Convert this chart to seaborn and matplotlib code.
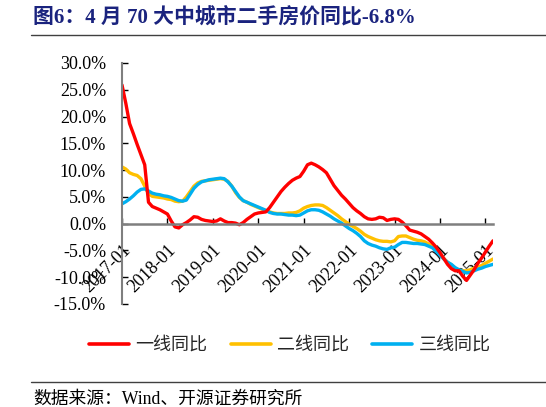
import numpy as np
import pandas as pd
import seaborn as sns
import matplotlib.pyplot as plt
from matplotlib.lines import Line2D

# monthly data, 2017-01 .. 2025-03
months = pd.date_range('2017-01-01', '2025-03-01', freq='MS')

tier1 = [25.9, 22.5, 18.7, 16.8, 14.8, 12.9, 11.0, 4.0, 3.2, 2.9,
         2.6, 2.2, 1.8, 0.5, -0.6, -0.8, -0.2, 0.2, 0.7, 1.3,
         1.2, 0.8, 0.6, 0.5, 0.4, 0.5, 0.9, 0.5, 0.2, 0.2,
         0.1, -0.2, 0.2, 0.8, 1.3, 1.8, 2.0, 2.1, 2.2, 3.0,
         4.0, 5.0, 6.0, 6.8, 7.5, 8.1, 8.5, 8.8, 9.8, 11.0,
         11.3, 11.0, 10.6, 10.1, 9.5, 8.3, 7.1, 6.2, 5.3, 4.6,
         3.8, 3.0, 2.4, 1.9, 1.3, 0.9, 0.8, 0.9, 1.2, 1.1,
         0.6, 0.8, 0.9, 0.8, 0.3, -0.4, -1.2, -1.4, -1.6, -1.9,
         -2.4, -2.9, -3.6, -4.4, -5.4, -6.5, -7.6, -8.4, -8.8, -8.8,
         -9.8, -10.6, -9.6, -8.6, -7.4, -6.4, -5.3, -4.2, -3.2]

tier2 = [10.6, 10.2, 9.5, 9.2, 9.0, 8.4, 7.0, 5.6, 5.1, 5.0,
         4.9, 4.8, 4.6, 4.5, 4.2, 4.1, 4.2, 5.0, 6.0, 7.0,
         7.6, 7.9, 8.0, 8.1, 8.2, 8.3, 8.4, 8.3, 7.9, 7.0,
         5.8, 4.9, 4.3, 4.0, 3.6, 3.3, 3.0, 2.7, 2.4, 2.2,
         2.0, 1.9, 1.9, 1.9, 2.0, 2.0, 2.1, 2.4, 2.9, 3.2,
         3.4, 3.5, 3.5, 3.4, 3.0, 2.5, 2.0, 1.5, 0.9, 0.4,
         -0.1, -0.5, -0.9, -1.4, -2.0, -2.4, -2.7, -3.0, -3.2, -3.3,
         -3.3, -3.4, -3.2, -2.4, -2.3, -2.3, -2.6, -2.9, -3.1, -3.2,
         -3.4, -3.8, -4.2, -4.9, -5.8, -6.5, -7.2, -7.7, -8.3, -8.7,
         -8.8, -8.8, -8.6, -8.3, -8.1, -7.8, -7.4, -7.0, -6.6]

tier3 = [3.7, 4.1, 4.6, 5.2, 5.9, 6.4, 6.5, 6.1, 5.7, 5.5,
         5.4, 5.2, 5.1, 4.9, 4.6, 4.3, 4.2, 4.4, 5.5, 6.6,
         7.3, 7.8, 8.0, 8.2, 8.3, 8.4, 8.5, 8.4, 7.8, 7.0,
         6.0, 5.0, 4.3, 4.0, 3.7, 3.4, 3.1, 2.8, 2.5, 2.1,
         1.9, 1.8, 1.8, 1.7, 1.6, 1.6, 1.5, 1.6, 2.0, 2.4,
         2.6, 2.6, 2.5, 2.2, 1.8, 1.4, 0.9, 0.5, 0.1, -0.4,
         -0.9, -1.3, -1.8, -2.4, -3.2, -3.7, -4.0, -4.2, -4.5, -4.7,
         -4.8, -4.5, -4.4, -3.9, -3.5, -3.5, -3.6, -3.7, -3.7, -3.8,
         -3.9, -4.2, -4.5, -5.2, -5.9, -6.6, -7.2, -7.6, -8.2, -8.6,
         -8.9, -9.2, -9.1, -8.8, -8.5, -8.3, -8.0, -7.8, -7.6]

series_names = ['一线同比', '二线同比', '三线同比']
series_colors = ['#FF0000', '#FFC000', '#00B0F0']

df = pd.DataFrame({'idx': np.arange(len(months)),
                   '一线同比': tier1, '二线同比': tier2, '三线同比': tier3})
long_df = df.melt(id_vars='idx', var_name='series', value_name='value')

sns.set_theme(style='white')
plt.rcParams['font.family'] = ['Liberation Serif', 'Noto Sans CJK SC']

fig = plt.figure(figsize=(5.46, 4.07), dpi=100)
ax = fig.add_axes([122 / 546, 1 - 304 / 407, (493 - 122) / 546, (304 - 63) / 407])

# yellow, blue first so red sits on top
sns.lineplot(data=long_df, x='idx', y='value', hue='series',
             hue_order=['二线同比', '三线同比', '一线同比'],
             palette=dict(zip(series_names, series_colors)),
             linewidth=2.4, legend=False, ax=ax)

ax.set_xlim(0, len(months) - 1)
ax.set_ylim(-15, 30)
ax.set_xlabel('')
ax.set_ylabel('')

for s in ['top', 'right']:
    ax.spines[s].set_visible(False)
ax.spines['bottom'].set_position(('data', 0))
ax.spines['bottom'].set_color('#7f7f7f')
ax.spines['bottom'].set_linewidth(1.8)
ax.spines['left'].set_color('#7f7f7f')
ax.spines['left'].set_linewidth(1.5)

yt = np.arange(-15, 31, 5)
ax.set_yticks(yt)
ax.set_yticklabels([f'{v:.1f}%' for v in yt], fontsize=13, color='black')

xt = np.arange(0, len(months), 12)
ax.set_xticks(xt)
ax.set_xticklabels(months[xt].strftime('%Y-%m'), fontsize=13, color='black',
                   rotation=45, ha='right', va='top', rotation_mode='anchor')
ax.tick_params(axis='y', direction='in', length=4, width=1, color='black', pad=11.5, left=True)
ax.tick_params(axis='x', direction='in', length=4, width=1, color='black', pad=13, bottom=True)

handles = [Line2D([], [], color=c, lw=2.6) for c in series_colors]
fig.legend(handles, series_names, loc='center', bbox_to_anchor=(290 / 546, 1 - 345 / 407),
           ncol=3, frameon=False, handlelength=2.2, handletextpad=0.35, columnspacing=1.3,
           prop={'family': 'Noto Sans CJK SC', 'size': 13})

fig.text(33 / 546, 1 - 17 / 407, '图6：4 月 70 大中城市二手房价同比-6.8%',
         ha='left', va='center', fontsize=15, fontweight='bold', color='#1a237e')
fig.add_artist(Line2D([31 / 546, 1], [1 - 35 / 407] * 2, color='#404040', lw=1))
fig.add_artist(Line2D([31 / 546, 1], [1 - 382 / 407] * 2, color='#404040', lw=1))
fig.text(33 / 546, 1 - 399 / 407, '数据来源：Wind、开源证券研究所',
         ha='left', va='center', fontsize=12.8, color='black')

fig.savefig('out.png', dpi=100)
